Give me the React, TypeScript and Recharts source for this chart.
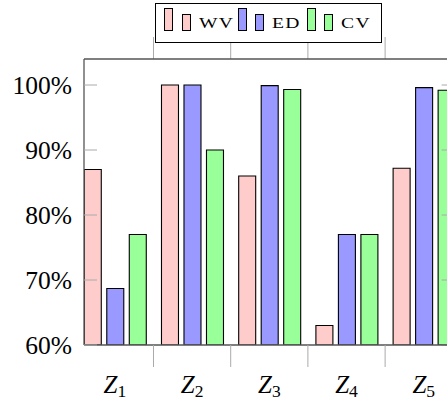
import React from "react";
import { BarChart, Bar, XAxis, YAxis, ReferenceLine } from "recharts";

// zone subscripts, one group per zone
const categories = ["1", "2", "3", "4", "5"];
const wv = [87, 100, 86, 63, 87.2];
const ed = [68.7, 100, 99.9, 77, 99.6];
const cv = [77, 90, 99.3, 77, 99.2];
const yTicks = [60, 70, 80, 90, 100];

const series = [
  { key: "wv", name: "WV", values: wv, fill: "#ffcccc" },
  { key: "ed", name: "ED", values: ed, fill: "#9999ff" },
  { key: "cv", name: "CV", values: cv, fill: "#99ff99" },
];

const X_DOMAIN = [0.6, 5.4];
const Y_DOMAIN = [60, 104];

const data = categories.map((c, i) => {
  const row: Record<string, number | string> = { x: i + 1, label: c };
  series.forEach((s) => (row[s.key] = s.values[i]));
  return row;
});

const centers = categories.map((_, i) => i + 1);
const splits = categories.slice(1).map((_, i) => i + 1.5);
const bottomTicks = [...centers, ...splits].sort((a, b) => a - b);

const FONT = "'Liberation Serif', 'Times New Roman', serif";
const AXIS = { stroke: "#555", strokeWidth: 1.3 };
const TICK = "#aaa";

const BottomTick = (props: any) => {
  const { x, y, payload } = props;
  const v = payload.value;
  if (Number.isInteger(v)) {
    return (
      <text x={x} y={y + 48} textAnchor="middle" fontFamily={FONT} fontSize={25} fill="#000">
        <tspan fontStyle="italic">Z</tspan>
        <tspan fontSize={17.5} dy={4}>{categories[v - 1]}</tspan>
      </text>
    );
  }
  return <line x1={x} x2={x} y1={y} y2={y + 22} stroke={TICK} strokeWidth={1} />;
};

const LeftTick = (props: any) => {
  const { x, y, payload } = props;
  return (
    <g>
      <line x1={x} x2={x + 13} y1={y} y2={y} stroke={TICK} strokeWidth={1} />
      <text x={x - 12} y={y} dy="0.35em" textAnchor="end" fontFamily={FONT} fontSize={25.5} fill="#000">
        {payload.value}%
      </text>
    </g>
  );
};

// top outward tick at a group boundary
const TopTickShape = (props: any) => {
  const top = Math.min(props.y1, props.y2);
  return <line x1={props.x1} x2={props.x1} y1={top - 22} y2={top} stroke={TICK} strokeWidth={1} />;
};

// right inward tick
const RightTickShape = (props: any) => {
  const right = Math.max(props.x1, props.x2);
  return <line x1={right - 13} x2={right} y1={props.y1} y2={props.y1} stroke={TICK} strokeWidth={1} />;
};

const LegendBox = () => (
  <div
    style={{
      position: "absolute",
      left: 155,
      top: 3,
      width: 227,
      height: 40,
      boxSizing: "border-box",
      border: "1px solid #000",
      background: "#fff",
      display: "flex",
      alignItems: "flex-end",
      paddingLeft: 8,
      paddingBottom: 11,
      fontFamily: FONT,
    }}
  >
    {series.map((s) => (
      <div key={s.key} style={{ display: "flex", alignItems: "flex-end", marginRight: 13 }}>
        <span style={{ width: 9, height: 23, boxSizing: "border-box", border: "1px solid #000", background: s.fill, marginRight: 8.5 }} />
        <span style={{ width: 9, height: 17, boxSizing: "border-box", border: "1px solid #000", background: s.fill, marginRight: 8 }} />
        <span
          style={{
            display: "inline-block",
            fontSize: 14.5,
            lineHeight: 1,
            letterSpacing: 1,
            marginBottom: 0.5,
            transform: "scaleX(1.35)",
            transformOrigin: "left bottom",
          }}
        >
          {s.name}
        </span>
      </div>
    ))}
  </div>
);

const App = () => {
  return (
    <div style={{ position: "absolute", left: 0, top: 0, width: 447, height: 405, overflow: "hidden", background: "#fff" }}>
      <BarChart
        width={475}
        height={405}
        data={data}
        barGap={5.5}
        margin={{ top: 59, right: 20.4, left: 24, bottom: 0 }}
      >
        <XAxis
          dataKey="x"
          type="number"
          domain={X_DOMAIN}
          allowDataOverflow
          ticks={bottomTicks}
          interval={0}
          tickSize={0}
          tickMargin={0}
          tickLine={false}
          axisLine={AXIS}
          tick={<BottomTick />}
          height={60}
        />
        <YAxis
          type="number"
          domain={Y_DOMAIN}
          allowDataOverflow
          ticks={yTicks}
          interval={0}
          tickSize={0}
          tickMargin={0}
          tickLine={false}
          axisLine={AXIS}
          tick={<LeftTick />}
          width={60}
        />
        {yTicks.map((t) => (
          <ReferenceLine key={"r" + t} y={t} ifOverflow="visible" shape={<RightTickShape />} />
        ))}
        {series.map((s) => (
          <Bar
            key={s.key}
            dataKey={s.key}
            name={s.name}
            fill={s.fill}
            stroke="#000"
            strokeWidth={1.1}
            barSize={17}
            isAnimationActive={false}
          />
        ))}
        {splits.map((s) => (
          <ReferenceLine key={"t" + s} x={s} ifOverflow="visible" shape={<TopTickShape />} />
        ))}
        <ReferenceLine y={Y_DOMAIN[1]} ifOverflow="visible" stroke={AXIS.stroke} strokeWidth={AXIS.strokeWidth} />
        <ReferenceLine x={X_DOMAIN[1]} ifOverflow="visible" stroke={AXIS.stroke} strokeWidth={AXIS.strokeWidth} />
      </BarChart>
      <LegendBox />
    </div>
  );
};

export default App;
